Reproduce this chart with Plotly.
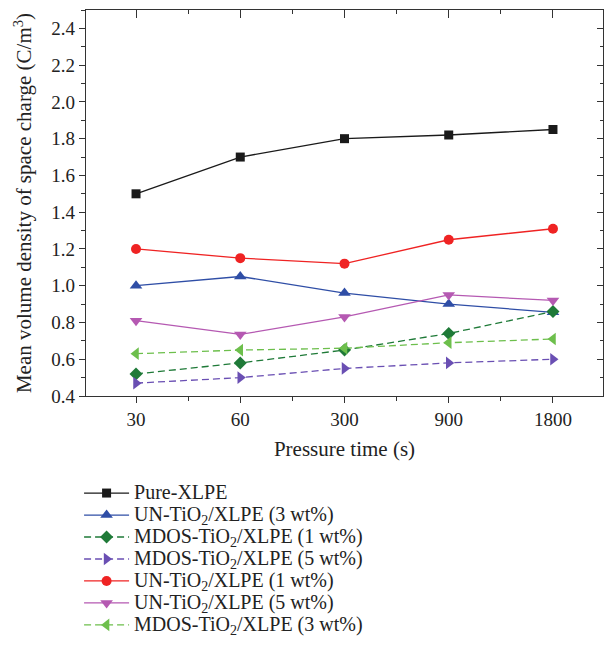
import plotly.graph_objects as go

categories = ["30", "60", "300", "900", "1800"]

series_names = [
    "Pure-XLPE",
    "UN-TiO<sub>2</sub>/XLPE (3 wt%)",
    "MDOS-TiO<sub>2</sub>/XLPE (1 wt%)",
    "MDOS-TiO<sub>2</sub>/XLPE (5 wt%)",
    "UN-TiO<sub>2</sub>/XLPE (1 wt%)",
    "UN-TiO<sub>2</sub>/XLPE (5 wt%)",
    "MDOS-TiO<sub>2</sub>/XLPE (3 wt%)",
]

pure_xlpe = [1.50, 1.70, 1.80, 1.82, 1.85]
un_3wt = [1.00, 1.05, 0.96, 0.90, 0.855]
mdos_1wt = [0.52, 0.58, 0.65, 0.74, 0.86]
mdos_5wt = [0.47, 0.50, 0.55, 0.58, 0.60]
un_1wt = [1.20, 1.15, 1.12, 1.25, 1.31]
un_5wt = [0.81, 0.735, 0.83, 0.95, 0.92]
mdos_3wt = [0.63, 0.65, 0.66, 0.69, 0.71]

series_values = [pure_xlpe, un_3wt, mdos_1wt, mdos_5wt, un_1wt, un_5wt, mdos_3wt]

colors = ["#1a1a1a", "#2f4ea6", "#1f7a38", "#6a4fb3", "#ef2323", "#b559b2", "#6dbf4c"]
symbols = ["square", "triangle-up", "diamond", "triangle-right", "circle", "triangle-down", "triangle-left"]
sizes = [9, 11, 10, 11, 10, 11, 11]
dashes = ["solid", "solid", "7px,4px", "7px,4px", "solid", "solid", "7px,4px"]

FONT = "Liberation Serif"
idx = list(range(len(categories)))

fig = go.Figure()
for name, vals, c, s, sz, d in zip(series_names, series_values, colors, symbols, sizes, dashes):
    fig.add_trace(go.Scatter(
        x=idx, y=vals, name='<span style="font-size:20px">' + name + '</span>',
        mode="lines+markers",
        line=dict(color=c, width=1.3, dash=d),
        marker=dict(symbol=s, size=sz, color=c, line=dict(width=0)),
    ))

# dummy trace for mirrored top/right axes with inward ticks
fig.add_trace(go.Scatter(x=idx, y=pure_xlpe, xaxis="x2", yaxis="y2",
                         mode="lines", line=dict(width=0), opacity=0,
                         showlegend=False, hoverinfo="skip"))

axis_color = "#333333"
fig.update_layout(
    width=604, height=663,
    margin=dict(l=86, r=1, t=10, b=267),
    paper_bgcolor="white", plot_bgcolor="white",
    font=dict(family=FONT, size=19, color="#222222"),
    showlegend=True,
    legend=dict(
        x=-0.0134, y=-0.21, xanchor="left", yanchor="top",
        font=dict(family=FONT, size=14.6, color="#222222"),
        itemwidth=45, bgcolor="rgba(0,0,0,0)", tracegroupgap=0,
    ),
    xaxis=dict(
        range=[-0.48, 4.48], tickvals=idx, ticktext=categories,
        ticks="outside", ticklen=6, tickwidth=1.3, tickcolor=axis_color,
        showline=True, linecolor=axis_color, linewidth=1.3,
        showgrid=False, zeroline=False,
        tickfont=dict(family=FONT, size=19),
        minor=dict(tickvals=[0.5, 1.5, 2.5, 3.5], ticks="outside", ticklen=4,
                   tickwidth=1.3, tickcolor=axis_color, showgrid=False),
        title=dict(text="Pressure time (s)", font=dict(family=FONT, size=21), standoff=12),
    ),
    yaxis=dict(
        range=[0.4, 2.5], tick0=0.4, dtick=0.2, tickformat=".1f",
        ticks="outside", ticklen=6, tickwidth=1.3, tickcolor=axis_color,
        showline=True, linecolor=axis_color, linewidth=1.3,
        showgrid=False, zeroline=False,
        tickfont=dict(family=FONT, size=19),
        minor=dict(dtick=0.1, tick0=0.4, ticks="outside", ticklen=4,
                   tickwidth=1.3, tickcolor=axis_color, showgrid=False),
        title=dict(text="Mean volume density of space charge (C/m<sup>3</sup>)",
                   font=dict(family=FONT, size=21), standoff=13),
    ),
    xaxis2=dict(
        overlaying="x", side="top", anchor="y2", matches="x",
        tickvals=idx, showticklabels=False,
        ticks="inside", ticklen=8, tickwidth=1.3, tickcolor=axis_color,
        showline=True, linecolor=axis_color, linewidth=1.3,
        showgrid=False, zeroline=False,
        minor=dict(tickvals=[0.5, 1.5, 2.5, 3.5], ticks="inside", ticklen=4,
                   tickwidth=1.3, tickcolor=axis_color, showgrid=False),
    ),
    yaxis2=dict(
        overlaying="y", side="right", anchor="x2", matches="y",
        tick0=0.4, dtick=0.2, showticklabels=False,
        ticks="inside", ticklen=6, tickwidth=1.3, tickcolor=axis_color,
        showline=True, linecolor=axis_color, linewidth=1.3,
        showgrid=False, zeroline=False,
        minor=dict(dtick=0.1, tick0=0.4, ticks="inside", ticklen=3,
                   tickwidth=1.3, tickcolor=axis_color, showgrid=False),
    ),
)

fig.write_html("out.html")
